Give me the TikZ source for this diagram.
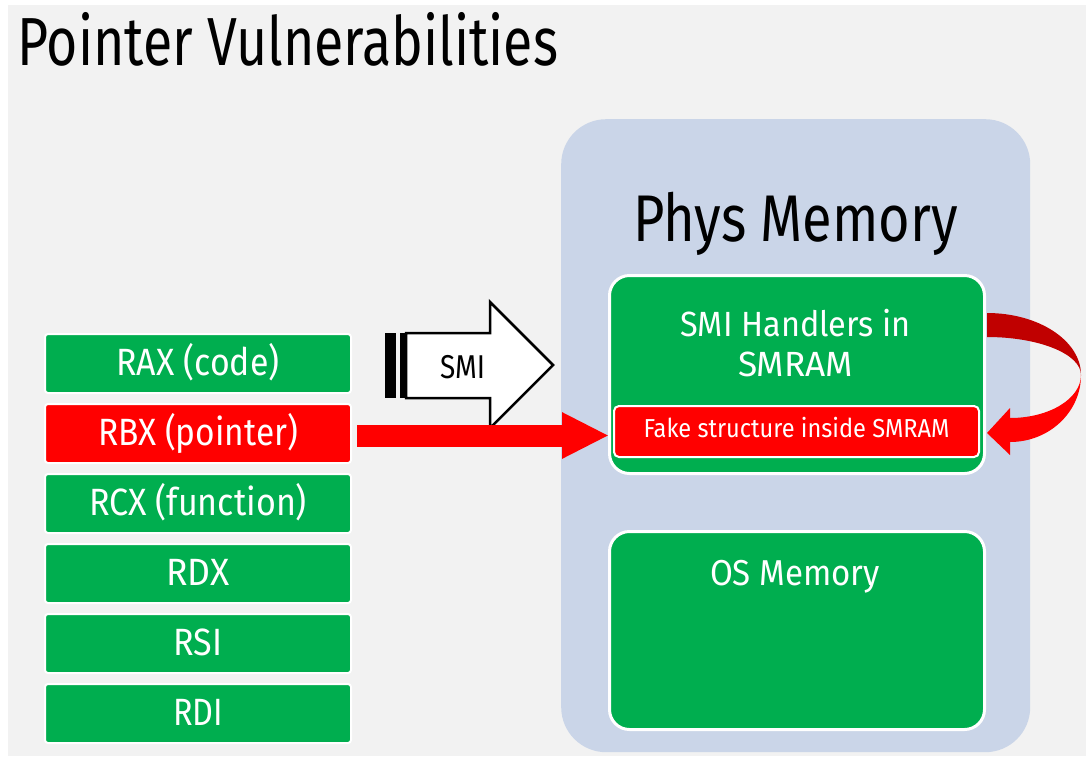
\documentclass[tikz,border=0pt]{standalone}
\usepackage{fontspec}
\usepackage{graphicx}
\setmainfont{Fira Sans}
\usetikzlibrary{arrows.meta,calc}

\definecolor{bggray}{HTML}{F2F2F2}
\definecolor{memblue}{HTML}{CAD5E8}
\definecolor{regreen}{HTML}{00AE4F}
\definecolor{ptrred}{HTML}{FF0000}
\definecolor{darkred}{HTML}{C00000}

% squeeze a text horizontally to a given width (in pt)
\newlength\fitw
\newcommand\fitx[2]{\settowidth\fitw{#2}\scalebox{\fpeval{#1/\fitw}}[1]{#2}}

\tikzset{
  regbox/.style={fill=regreen, draw=white, line width=2pt, rounded corners=3pt,
    minimum width=306pt, minimum height=59pt, inner sep=0pt, anchor=north west,
    text=white, font=\fontsize{38}{38}\selectfont, text height=26pt, text depth=3pt},
  membox/.style={fill=regreen, draw=white, line width=3pt, rounded corners=20pt,
    minimum width=375pt, minimum height=198pt, inner sep=0pt, anchor=north west},
  whitetext/.style={text=white, inner sep=0pt, anchor=base},
}

\begin{document}
\begin{tikzpicture}[x=1pt,y=-1pt]
\useasboundingbox (0,0) rectangle (1086,756);
\fill[white] (0,0) rectangle (1086,756);
\fill[bggray] (8,5) rectangle (1086,756);

% title
\node (title) [anchor=base west, inner sep=0pt, font=\fontsize{68}{68}\selectfont]
  at (17,65) {\fitx{541}{Pointer Vulnerabilities}};

% physical memory panel
\node (phys) [fill=memblue, rounded corners=45pt, minimum width=469pt,
  minimum height=633pt, inner sep=0pt, anchor=north west] at (561,119) {};
\node (physlbl) [anchor=base, inner sep=0pt, font=\fontsize{66}{66}\selectfont]
  at (795.5,241) {\fitx{325}{Phys Memory}};

\node (smi) [membox] at (608,274) {};
\node (smiA) [whitetext, font=\fontsize{35}{35}\selectfont] at (795.5,336) {\fitx{230}{SMI Handlers in}};
\node (smiB) [whitetext, font=\fontsize{35}{35}\selectfont] at (795.5,376) {\fitx{115}{SMRAM}};

\node (fake) [fill=ptrred, draw=white, line width=2pt, rounded corners=5pt,
  minimum width=365pt, minimum height=51pt, inner sep=0pt, anchor=north west,
  text=white, font=\fontsize{26}{26}\selectfont, text height=18pt, text depth=7pt]
  at (613,405) {\fitx{306}{Fake structure inside SMRAM}};

\node (os) [membox] at (608,530) {};
\node (oslbl) [whitetext, font=\fontsize{36}{36}\selectfont] at (795,585) {\fitx{170}{OS Memory}};

% registers
\node (rax) [regbox] at (44,333) {\fitx{163}{RAX (code)}};
\node (rbx) [regbox, fill=ptrred] at (44,403) {\fitx{200}{RBX (pointer)}};
\node (rcx) [regbox] at (44,473) {\fitx{218}{RCX (function)}};
\node (rdx) [regbox] at (44,543) {\fitx{63}{RDX}};
\node (rsi) [regbox] at (44,613) {\fitx{49}{RSI}};
\node (rdi) [regbox] at (44,683) {\fitx{50}{RDI}};

% SMI striped block arrow
\fill[black] (385,333) rectangle (396,398);
\fill[black] (400,333) rectangle (406,398);
\draw[black, line width=2.5pt, fill=white, line join=miter]
  (406,333) -- (490,333) -- (490,302) -- (553,365) -- (490,428) -- (490,398) -- (406,398) -- cycle;
\node (smilbl) [anchor=base, inner sep=0pt, font=\fontsize{33}{33}\selectfont]
  at (462.5,378) {\fitx{45}{SMI}};

% pointer from RBX into SMRAM
\coordinate (ptrstart) at ($(rbx.east)+(5,2)$);
\coordinate (ptrend) at ($(rbx.east -| fake.west)+(-4,2)$);
\draw[ptrred, line width=22pt, -{Triangle[length=47pt,width=43pt]}] (ptrstart) -- (ptrend);

% curved arrow looping back into SMRAM
\fill[darkred] (987,313) arc[start angle=-90, end angle=0, x radius=94, y radius=62]
  arc[start angle=0, end angle=-90, x radius=94, y radius=38] -- cycle;
\fill[ptrred] (1081,375) arc[start angle=0, end angle=90, x radius=71, y radius=67]
  -- (1010,455) -- (987,433) -- (1010,408) -- (1010,418)
  arc[start angle=90, end angle=0, x radius=71, y radius=43] -- cycle;
\end{tikzpicture}
\end{document}
